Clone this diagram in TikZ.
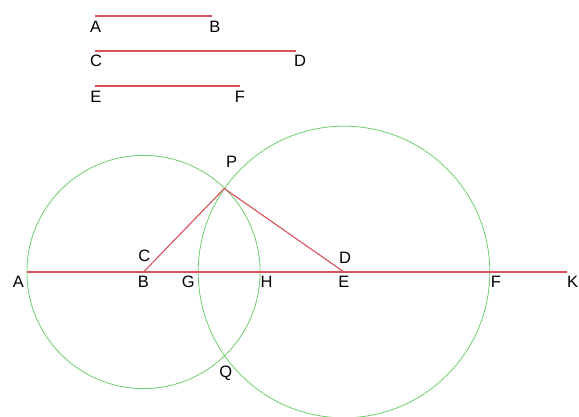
\documentclass[tikz,border=0pt]{standalone}
\usepackage{fontspec}
\setmainfont{Liberation Sans}
\definecolor{segred}{RGB}{215,80,90}
\definecolor{circgreen}{RGB}{110,205,110}
\begin{document}
\begin{tikzpicture}[x=1pt,y=-1pt,
  seg/.style={draw=segred, line width=1.1pt},
  circ/.style={draw=circgreen, line width=0.8pt},
  lbl/.style={font=\fontsize{16.5}{16.5}\selectfont, inner sep=0pt, anchor=center}]
\useasboundingbox (0,0) rectangle (579,417);
% given segments
\coordinate (a1) at (95,16);  \coordinate (b1) at (211.7,16);
\coordinate (c1) at (95,51);  \coordinate (d1) at (296,51);
\coordinate (e1) at (95,86);    \coordinate (f1) at (240,86);
\draw[seg] (a1) -- (b1);
\draw[seg] (c1) -- (d1);
\draw[seg] (e1) -- (f1);
\node[lbl] (la1) at (95.7,26.7) {A};
\node[lbl] (lb1) at (215,26.7) {B};
\node[lbl] (lc1) at (96,60.7) {C};
\node[lbl] (ld1) at (300,60.7) {D};
\node[lbl] (le1) at (96,97.3) {E};
\node[lbl] (lf1) at (240,97.3) {F};
% construction
\coordinate (A) at (27,272);
\coordinate (B) at (143.5,272);
\coordinate (E) at (344,272);
\coordinate (K) at (567,272);
\coordinate (P) at (224.3,188.5);
\draw[circ] (B) circle[radius=116.6];
\draw[circ] (E) circle[radius=145.8];
\draw[seg] (A) -- (K);
\draw[seg] (B) -- (P) -- (E);
\node[lbl] (lA) at (18.3,281.7) {A};
\node[lbl] (lB) at (143.5,281.7) {B};
\node[lbl] (lC) at (144.3,255.5) {C};
\node[lbl] (lG) at (188.3,281.7) {G};
\node[lbl] (lH) at (266.7,281.7) {H};
\node[lbl] (lD) at (345,258) {D};
\node[lbl] (lE) at (344,281.7) {E};
\node[lbl] (lF) at (496,281.7) {F};
\node[lbl] (lK) at (572.7,281.7) {K};
\node[lbl] (lP) at (231.7,161.7) {P};
\node[lbl] (lQ) at (225.7,373.3) {Q};
\end{tikzpicture}
\end{document}
